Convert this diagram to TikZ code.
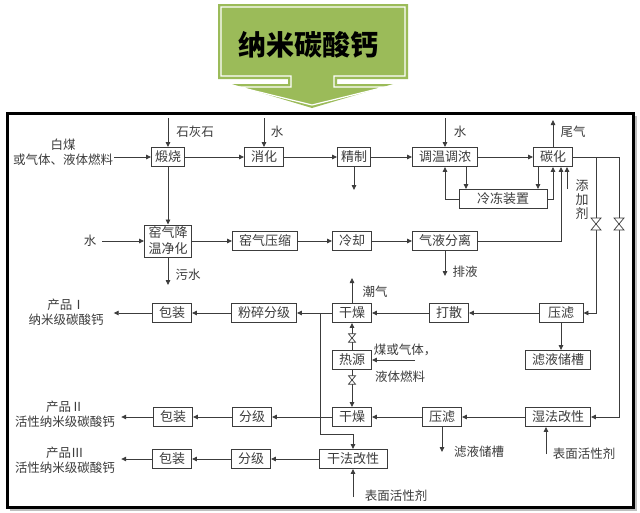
\documentclass[tikz,border=0pt]{standalone}
\usepackage{fontspec}
\setmainfont{Noto Sans CJK SC}
\usetikzlibrary{arrows.meta, positioning, calc}
\definecolor{banner}{HTML}{9BBB59}
\definecolor{ln}{HTML}{3C3C3C}

\begin{document}
\begin{tikzpicture}[x=1pt, y=-1pt,
	box/.style={draw=ln, line width=0.9pt, fill=white, text=ln, inner xsep=6.5pt, inner ysep=2pt, minimum height=19pt, font=\fontsize{13}{14}\selectfont},
	lbl/.style={inner sep=1pt, text=ln, align=center, font=\fontsize{12.5}{15}\selectfont},
	flow/.style={draw=ln, line width=0.8pt, -{Triangle[length=5pt,width=4.5pt]}},
	pipe/.style={draw=ln, line width=0.8pt},
	valve/.pic={\draw[ln, line width=0.7pt, fill=white] (-5,-6) -- (5,-6) -- (-5,6) -- (5,6) -- cycle;}]
	\useasboundingbox[fill=white] (0,0) rectangle (640,512);
	% banner
	\fill[banner] (218,4) -- (408,4) -- (408,79) -- (337,79) -- (337,84) -- (393,84)
		-- (312,108) -- (232,84) -- (288,84) -- (288,79) -- (218,79) -- cycle;
	\draw[white, line width=1.2pt] (221,7) -- (405,7) -- (405,76) -- (334,76) -- (334,87) -- (385,87)
		-- (312,105) -- (239,87) -- (291,87) -- (291,76) -- (221,76) -- cycle;
	\node[font=\fontsize{28}{30}\selectfont\bfseries] (title) at (308,45) {纳米碳酸钙};
	% frame
	\fill[black!25] (10,116) rectangle (637,511);
	\draw[line width=3pt, fill=white] (7,113) rectangle (633,507);

	% first row
	\node[box, inner xsep=3.5pt] (ds) at (168,157) {煅烧};
	\node[box] (xh) at (264,157) {消化};
	\node[box, inner xsep=3.5pt] (jz) at (354,157) {精制};
	\node[box] (tw) at (445,157) {调温调浓};
	\node[box] (th) at (553,157) {碳化};
	\node[box, minimum width=88pt] (ld) at (503,199) {冷冻装置};
	\node[lbl] (coal) at (63,152) {白煤\\或气体、液体燃料};
	\node[lbl] (shsl) at (195,132) {石灰石};
	\node[lbl] (w1l) at (277,132) {水};
	\node[lbl] (w2l) at (460,132) {水};
	\node[lbl] (wql) at (573,132) {尾气};
	\node[lbl, font=\fontsize{13}{14}\selectfont] (tjl) at (582,200) {添\\加\\剂};
	\coordinate (shs) at (168,118);
	\coordinate (w1) at (264,118);
	\coordinate (w2) at (445,118);
	\coordinate (wq) at (553,120);
	\coordinate (jzo) at (354,190);
	\coordinate (tj) at (567,189);
	\coordinate (r1) at (596,0);
	\coordinate (r2) at (619,0);

	% second row
	\node[box, align=center, inner xsep=4pt, font=\fontsize{13}{16}\selectfont] (yj) at (168,241) {窑气降\\温净化};
	\node[box] (ys) at (265,241) {窑气压缩};
	\node[box] (lq) at (352,241) {冷却};
	\node[box] (qy) at (445,241) {气液分离};
	\node[lbl] (w3) at (90,241) {水};
	\node[lbl] (wsl) at (188,275) {污水};
	\node[lbl] (pyl) at (465,272) {排液};
	\coordinate (ws) at (168,285);
	\coordinate (pyo) at (445,276);

	% third row
	\node[box] (bz1) at (172,313) {包装};
	\node[box] (fs) at (264,313) {粉碎分级};
	\node[box] (gz1) at (352,313) {干燥};
	\node[box] (ss) at (449,313) {打散};
	\node[box, inner xsep=9pt] (yl1) at (561,313) {压滤};
	\node[box] (ly) at (558,360) {滤液储槽};
	\node[box] (ry) at (352,360) {热源};
	\node[lbl] (p1) at (66,312) {产品Ⅰ\\纳米级碳酸钙};
	\node[lbl] (cql) at (375,292) {潮气};
	\node[lbl] (fu1) at (405,350) {煤或气体，};
	\node[lbl] (fu2) at (400,377) {液体燃料};
	\coordinate (cq) at (352,278);
	\coordinate (fuin) at (415,360);
	\coordinate (br) at (320,313);
	\coordinate (br2) at (320,434);

	% fourth and fifth row
	\node[box] (bz2) at (173,417) {包装};
	\node[box] (fj2) at (252,417) {分级};
	\node[box] (gz2) at (352,417) {干燥};
	\node[box] (yl2) at (442,417) {压滤};
	\node[box] (sf) at (558,417) {湿法改性};
	\node[box] (bz3) at (172,459) {包装};
	\node[box] (fj3) at (251,459) {分级};
	\node[box, inner xsep=8pt] (gf) at (353,459) {干法改性};
	\node[lbl] (p2) at (65,414) {产品Ⅱ\\活性纳米级碳酸钙};
	\node[lbl] (p3) at (65,460) {产品Ⅲ\\活性纳米级碳酸钙};
	\node[lbl] (lyl) at (479,452) {滤液储槽};
	\node[lbl] (sa1l) at (584,454) {表面活性剂};
	\node[lbl] (sa2l) at (396,496) {表面活性剂};
	\coordinate (lyo) at (442,452);
	\coordinate (sa1) at (546,454);
	\coordinate (sa2) at (353,497);

	% connectors
	\draw[flow] (shs) -- (ds);
	\draw[flow] (coal.east |- ds) -- (ds);
	\draw[flow] (ds) -- (xh);
	\draw[flow] (w1) -- (xh);
	\draw[flow] (xh) -- (jz);
	\draw[flow] (jz) -- (jzo);
	\draw[flow] (jz) -- (tw);
	\draw[flow] (w2) -- (tw);
	\draw[flow] (tw) -- (th);
	\draw[flow] (th) -- (wq);
	\draw[flow] (ld.west) -| (tw.south);
	\draw[flow] ([xshift=21pt]tw.south) -- ([xshift=21pt]tw.south |- ld.north);
	\draw[flow] ([xshift=-15pt]th.south) -- ([xshift=-15pt]th.south |- ld.north);
	\draw[flow] (ld.east) -| (th.south);
	\draw[flow] (qy.east) -| ([xshift=8pt]th.south);
	\draw[flow] (tj) -- (tj |- th.south);
	\draw[flow] (th.east) -| (r1 |- yl1) -- (yl1);
	\draw[flow] (th.east) -| (r2 |- sf) -- (sf);
	\pic at (596,224) {valve};
	\pic at (619,224) {valve};

	\draw[flow] (ds) -- (yj);
	\draw[flow] ([xshift=5pt]w3.east) -- (yj);
	\draw[flow] (yj) -- (ws);
	\draw[flow] (yj) -- (ys);
	\draw[flow] (ys) -- (lq);
	\draw[flow] (lq) -- (qy);
	\draw[flow] (qy) -- (pyo);

	\draw[flow] (yl1) -- (ss);
	\draw[flow] (ss) -- (gz1);
	\draw[flow] (gz1) -- (fs);
	\draw[flow] (fs) -- (bz1);
	\draw[flow] (bz1) -- ([xshift=9pt]p1.east |- bz1);
	\draw[flow] (gz1) -- (cq);
	\draw[flow] (yl1.south) -- (yl1.south |- ly.north);
	\draw[flow] (ry) -- (gz1);
	\draw[flow] (ry) -- (gz2);
	\draw[flow] (fuin) -- (ry);
	\pic[scale=0.7] at (352,338) {valve};
	\pic[scale=0.7] at (352,380) {valve};
	\draw[flow] (br) -- (br2) -| (gf.north);

	\draw[flow] (sf) -- (yl2);
	\draw[flow] (yl2) -- (gz2);
	\draw[flow] (gz2) -- (fj2);
	\draw[flow] (fj2) -- (bz2);
	\draw[flow] (bz2) -- ([xshift=5pt]p2.east |- bz2);
	\draw[flow] (yl2) -- (lyo);
	\draw[flow] (sa1) -- (sa1 |- sf.south);
	\draw[flow] (gf) -- (fj3);
	\draw[flow] (fj3) -- (bz3);
	\draw[flow] (bz3) -- ([xshift=5pt]p3.east |- bz3);
	\draw[flow] (sa2) -- (gf);
\end{tikzpicture}
\end{document}
